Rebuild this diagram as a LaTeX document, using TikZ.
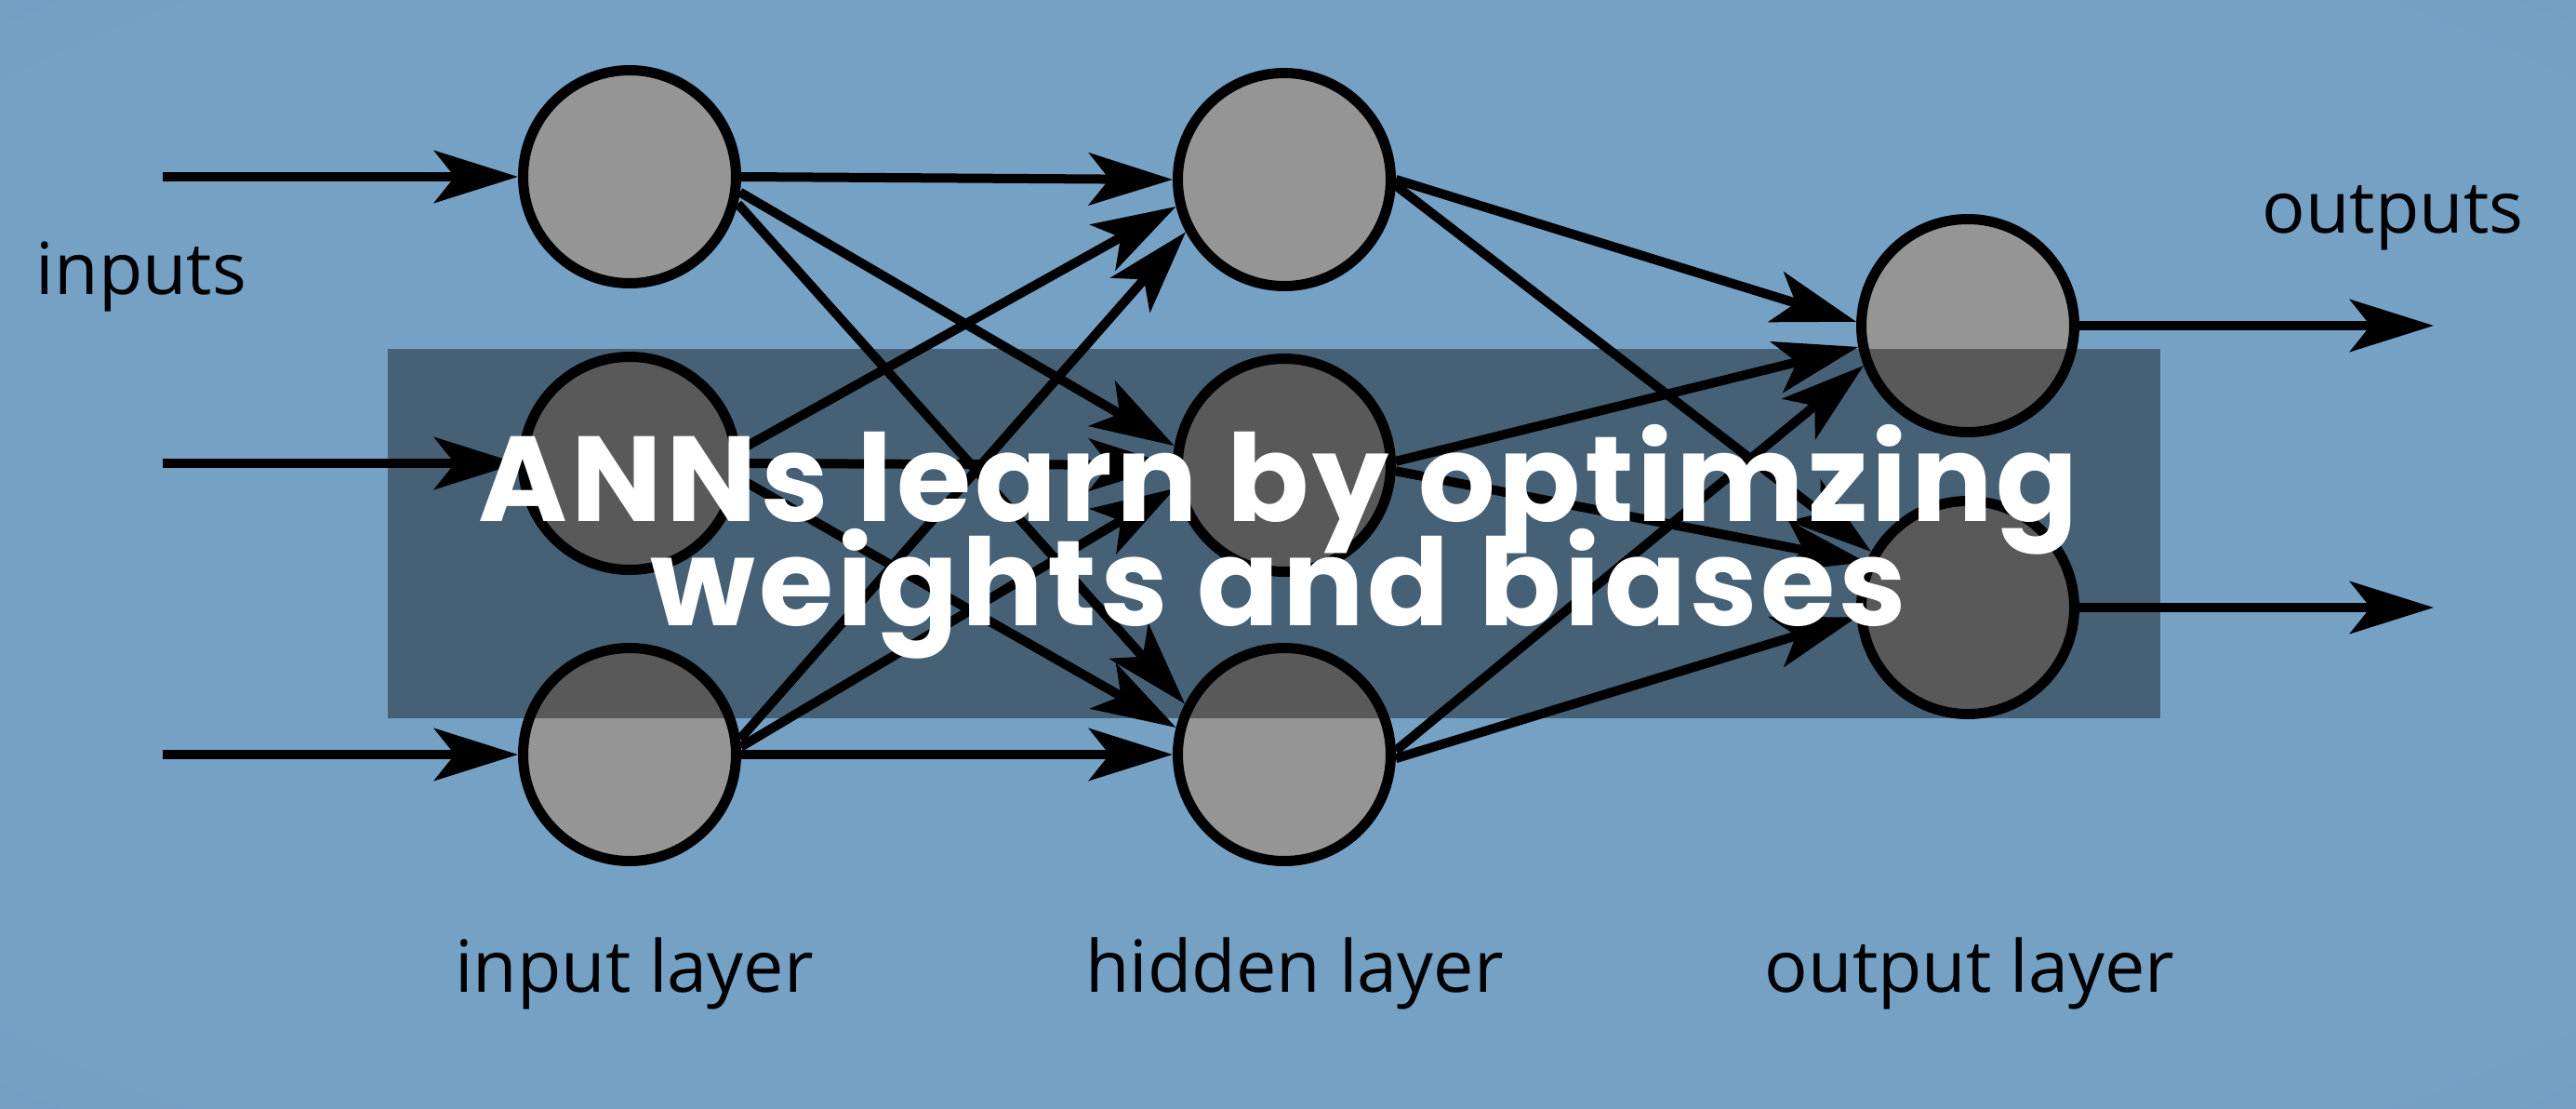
\documentclass[tikz,border=0pt]{standalone}
\usepackage{fontspec}
\setmainfont{Open Sans}
\newfontfamily\titlefont{Poppins}[LetterSpace=3]
\usetikzlibrary{arrows.meta}
\definecolor{bgc}{RGB}{117,161,197}
\definecolor{bge}{RGB}{102,138,176}
\definecolor{nodegray}{RGB}{149,149,149}
\pgfdeclareradialshading{vign}{\pgfpoint{0bp}{0bp}}{color(0bp)=(bgc); color(32bp)=(bgc); color(71bp)=(bge)}
\tikzset{
  neuron/.style={circle, draw=black, line width=0.11cm, fill=nodegray, minimum size=2.29cm, inner sep=0pt},
  conn/.style={line width=0.1cm, draw=black, -{Stealth[length=0.9cm, width=0.56cm, inset=0.22cm]}},
  lbl/.style={font=\fontsize{22}{26}\selectfont, text=black, inner sep=0pt, anchor=base},
  ttl/.style={font=\titlefont\bfseries\fontsize{37}{40}\selectfont, text=white, inner sep=0pt, anchor=base},
  banner/.style={fill=black, fill opacity=0.4, draw=none}
}
\begin{document}
\begin{tikzpicture}
\useasboundingbox (0,0) rectangle (27.70,-11.92);
\shade[shading=vign] (0,0) rectangle (27.70,-11.92);

% neurons
\node[neuron] (I1) at (6.77,-1.90) {};
\node[neuron] (I2) at (6.77,-4.98) {};
\node[neuron] (I3) at (6.77,-8.11) {};
\node[neuron] (H1) at (13.81,-1.93) {};
\node[neuron] (H2) at (13.81,-5.00) {};
\node[neuron] (H3) at (13.81,-8.11) {};
\node[neuron] (O1) at (21.16,-3.50) {};
\node[neuron] (O2) at (21.16,-6.53) {};

% free ends
\coordinate (in1) at (1.75,-1.90);
\coordinate (in2) at (1.75,-4.98);
\coordinate (in3) at (1.75,-8.11);
\coordinate (out1) at (26.17,-3.50);
\coordinate (out2) at (26.17,-6.53);

% input arrows
\draw[conn] (in1) -- (I1.west);
\draw[conn] (in2) -- (I2.west);
\draw[conn] (in3) -- (I3.west);

% input -> hidden
\draw[conn] (I1.0) -- (H1.180);
\draw[conn] (I1.-8) -- (H2.170);
\draw[conn] (I1.-14) -- (H3.153);
\draw[conn] (I2.7) -- (H1.194);
\draw[conn] (I2.0) -- (H2.180);
\draw[conn] (I2.-8) -- (H3.166);
\draw[conn] (I3.8) -- (H1.208);
\draw[conn] (I3.4) -- (H2.192);
\draw[conn] (I3.0) -- (H3.180);

% hidden -> output
\draw[conn] (H1.0) -- (O1.178);
\draw[conn] (H1.-3) -- (O2.150);
\draw[conn] (H2.2) -- (O1.191);
\draw[conn] (H2.-3) -- (O2.156);
\draw[conn] (H3.2) -- (O1.201);
\draw[conn] (H3.-2) -- (O2.185);

% output arrows
\draw[conn] (O1.east) -- (out1);
\draw[conn] (O2.east) -- (out2);

% labels
\node[lbl] (linputs) at (1.52,-3.16) {inputs};
\node[lbl] (loutputs) at (25.73,-2.50) {outputs};
\node[lbl] (linl) at (6.82,-10.66) {input layer};
\node[lbl] (lhid) at (13.92,-10.66) {hidden layer};
\node[lbl] (lout) at (21.18,-10.66) {output layer};

% banner
\fill[banner] (4.17,-3.75) rectangle (23.23,-7.72);
\node[ttl] (t1) at (13.75,-5.60) {ANNs learn by optimzing};
\node[ttl] (t2) at (13.75,-6.72) {weights and biases};
\end{tikzpicture}
\end{document}
